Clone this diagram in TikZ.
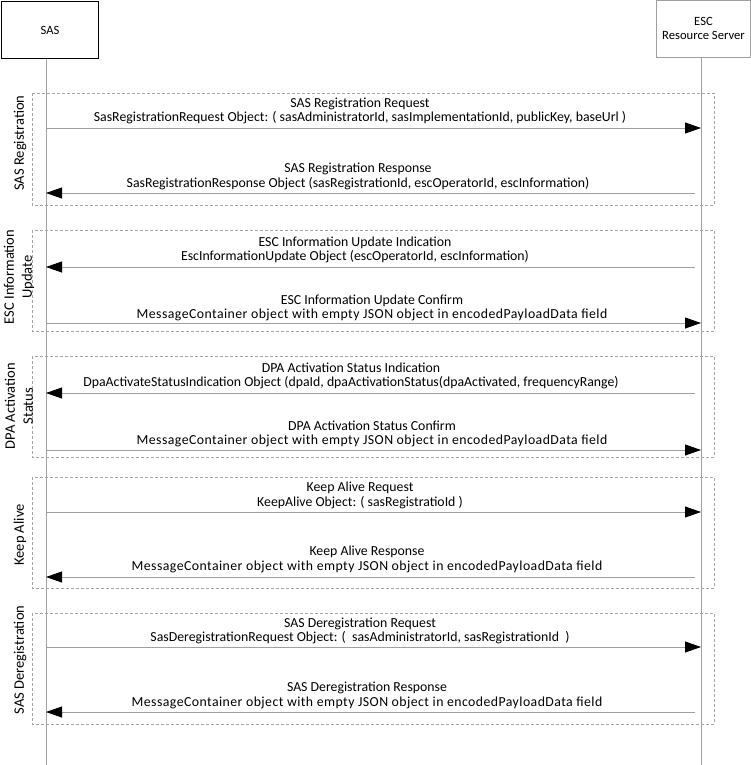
\documentclass[tikz,border=0pt]{standalone}
\usepackage{fontspec}
\setmainfont{Carlito}
\usetikzlibrary{arrows.meta}
\definecolor{linegray}{RGB}{160,160,160}
\definecolor{framegray}{RGB}{165,165,165}
\newcommand{\wideline}[1]{{\addfontfeature{LetterSpace=3.2}#1}}
\begin{document}
\begin{tikzpicture}[x=1pt,y=-1pt,
  actor/.style={draw,minimum width=#1,minimum height=57pt,inner sep=0pt,font=\fontsize{12.6}{14}\selectfont,align=center},
  lifeline/.style={draw=linegray,line width=0.8pt},
  frame/.style={draw=framegray,dashed,dash pattern=on 3pt off 2pt,line width=0.6pt},
  msg/.style={draw=linegray,line width=0.8pt,-{Triangle[length=16pt,width=11pt,color=black]}},
  lbl/.style={font=\fontsize{13.8}{14.5}\selectfont,align=center,inner sep=0pt},
  side/.style={font=\fontsize{14.5}{18}\selectfont,align=center,rotate=90,inner sep=0pt}]
\useasboundingbox (0,0) rectangle (751,765);
% actors
\node[actor=97pt,draw=black,line width=1pt] (sas) at (50,30) {SAS};
\node[actor=94pt,draw=linegray,line width=0.8pt] (esc) at (703.5,28.5) {ESC\\Resource Server};
\coordinate (sasend) at (46,765);
\coordinate (escend) at (701,765);
\draw[lifeline] (46,59) -- (sasend);
\draw[lifeline] (701,57) -- (escend);
% frames
\draw[frame] (32,93) rectangle (714,205);
\draw[frame] (32,230) rectangle (714,331);
\draw[frame] (32,356) rectangle (714,457);
\draw[frame] (32,477) rectangle (714,588);
\draw[frame] (32,613) rectangle (714,724);
% side labels
\node[side] (f1) at (20,143) {SAS Registration};
\node[side] (f2) at (19,277) {ESC Information\\Update};
\node[side] (f3) at (19,406) {DPA Activation\\Status};
\node[side] (f4) at (20,535) {Keep Alive};
\node[side] (f5) at (20,660) {SAS Deregistration};
% message end points
\foreach \n/\y in {a/128,b/193,c/267,d/323,e/393,f/450,g/512,h/577,i/647,j/712}{
  \coordinate (s\n) at (46,\y);
  \coordinate (e\n) at (701,\y);
  \coordinate (r\n) at (695,\y);
}
\draw[msg] (sa) -- (ea);
\draw[msg] (rb) -- (sb);
\draw[msg] (rc) -- (sc);
\draw[msg] (sd) -- (ed);
\draw[msg] (re) -- (se);
\draw[msg] (sf) -- (ef);
\draw[msg] (sg) -- (eg);
\draw[msg] (rh) -- (sh);
\draw[msg] (si) -- (ei);
\draw[msg] (rj) -- (sj);
% labels
\node[lbl] (la) at (360,111) {SAS Registration Request\\SasRegistrationRequest Object: ( sasAdministratorId, sasImplementationId, publicKey, baseUrl )};
\node[lbl] (lb) at (358,176.5) {SAS Registration Response\\SasRegistrationResponse Object (sasRegistrationId, escOperatorId, escInformation)};
\node[lbl] (lc) at (355,250) {ESC Information Update Indication\\EscInformationUpdate Object (escOperatorId, escInformation)};
\node[lbl] (ld) at (372,308) {ESC Information Update Confirm\\\wideline{MessageContainer object with empty JSON object in encodedPayloadData field}};
\node[lbl] (le) at (351,376) {DPA Activation Status Indication\\DpaActivateStatusIndication Object (dpaId, dpaActivationStatus(dpaActivated, frequencyRange)};
\node[lbl] (lf) at (372,434) {DPA Activation Status Confirm\\\wideline{MessageContainer object with empty JSON object in encodedPayloadData field}};
\node[lbl] (lg) at (360,495.5) {Keep Alive Request\\KeepAlive Object: ( sasRegistratioId )};
\node[lbl] (lh) at (367,559.5) {Keep Alive Response\\\wideline{MessageContainer object with empty JSON object in encodedPayloadData field}};
\node[lbl] (li) at (360,631) {SAS Deregistration Request\\SasDeregistrationRequest Object: (~ sasAdministratorId, sasRegistrationId~ )};
\node[lbl] (lj) at (367,695.5) {SAS Deregistration Response\\\wideline{MessageContainer object with empty JSON object in encodedPayloadData field}};
\end{tikzpicture}
\end{document}
